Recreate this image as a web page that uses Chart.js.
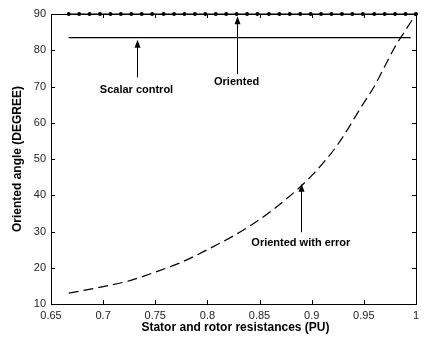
<!DOCTYPE html>
<html><head><meta charset="utf-8">
<script src="https://cdn.jsdelivr.net/npm/chart.js@4"></script>
<style>html,body{margin:0;padding:0;background:#fff}#w{width:424px;height:337px}</style>
</head><body><div id="w"><canvas id="c"></canvas></div>
<script>
const xTickLabels = [0.65, 0.7, 0.75, 0.8, 0.85, 0.9, 0.95, 1];
const yTickLabels = [10, 20, 30, 40, 50, 60, 70, 80, 90];
const orientedX = [0.667,0.677,0.687,0.697,0.707,0.717,0.727,0.737,0.747,0.758,0.768,0.778,0.788,0.798,0.808,0.818,0.828,0.838,0.848,0.859,0.869,0.879,0.889,0.899,0.909,0.919,0.929,0.939,0.949,0.960,0.970,0.980,0.990,1.0];
const orientedY = [90,90,90,90,90,90,90,90,90,90,90,90,90,90,90,90,90,90,90,90,90,90,90,90,90,90,90,90,90,90,90,90,90,90];
const scalarX = [0.667, 0.995];
const scalarY = [83.5, 83.5];
const errorX = [0.667,0.7,0.725,0.75,0.775,0.8,0.825,0.85,0.875,0.9,0.925,0.95,0.96,0.97,0.98,0.99,1.0];
const errorY = [13,14.8,16.4,18.8,21.5,25,28.8,33.3,38.8,45.4,54,65.5,70,75.5,81,85.5,90];
const notes = [
  {text:'Scalar control', tx:0.732, ty:69.0, ax:0.732, from:72.5, to:82.9},
  {text:'Oriented', tx:0.828, ty:71.2, ax:0.828, from:73.4, to:89.4},
  {text:'Oriented with error', tx:0.8896, ty:26.8, ax:0.8896, from:29.8, to:43.2}
];
const toPts = (xs, ys) => xs.map((x, i) => ({x, y: ys[i]}));

const FONT = '"Liberation Sans", Arial, sans-serif';
const frame = {
  id: 'frame',
  afterDraw(chart) {
    const {ctx, chartArea: a, scales: {x, y}} = chart;
    ctx.save();
    ctx.strokeStyle = '#000';
    ctx.lineWidth = 1;
    ctx.strokeRect(Math.round(a.left) + 0.5, Math.round(a.top) + 0.5, Math.round(a.right - a.left), Math.round(a.bottom - a.top));
    ctx.beginPath();
    xTickLabels.forEach(v => {
      const px = Math.round(x.getPixelForValue(v)) + 0.5;
      ctx.moveTo(px, a.bottom); ctx.lineTo(px, a.bottom - 4);
      ctx.moveTo(px, a.top); ctx.lineTo(px, a.top + 4);
    });
    yTickLabels.forEach(v => {
      const py = Math.round(y.getPixelForValue(v)) + 0.5;
      ctx.moveTo(a.left, py); ctx.lineTo(a.left + 4, py);
      ctx.moveTo(a.right, py); ctx.lineTo(a.right - 4, py);
    });
    ctx.stroke();
    // annotations
    ctx.fillStyle = '#000';
    ctx.font = 'bold 11px ' + FONT;
    ctx.textAlign = 'center';
    ctx.textBaseline = 'middle';
    notes.forEach(n => {
      ctx.fillText(n.text, x.getPixelForValue(n.tx), y.getPixelForValue(n.ty));
      const ax = Math.round(x.getPixelForValue(n.ax)) + 0.5;
      const y0 = y.getPixelForValue(n.from), y1 = y.getPixelForValue(n.to);
      ctx.beginPath();
      ctx.moveTo(ax, y0); ctx.lineTo(ax, y1 + 6);
      ctx.stroke();
      ctx.beginPath();
      ctx.moveTo(ax, y1); ctx.lineTo(ax - 3, y1 + 8); ctx.lineTo(ax + 3, y1 + 8); ctx.closePath();
      ctx.fill();
    });
    // axis titles
    ctx.font = 'bold 12px ' + FONT;
    ctx.fillText('Stator and rotor resistances (PU)', (a.left + a.right) / 2 + 2, 328);
    ctx.translate(18, (a.top + a.bottom) / 2);
    ctx.rotate(-Math.PI / 2);
    ctx.fillText('Oriented angle (DEGREE)', 0, 0);
    ctx.restore();
  }
};

new Chart(document.getElementById('c'), {
  type: 'line',
  data: {
    datasets: [
      {label: 'Oriented', data: toPts(orientedX, orientedY), borderColor: '#000', backgroundColor: '#000', borderWidth: 1.2, pointRadius: 2, pointBorderWidth: 0, clip: false},
      {label: 'Scalar control', data: toPts(scalarX, scalarY), borderColor: '#000', borderWidth: 1.2, pointRadius: 0},
      {label: 'Oriented with error', data: toPts(errorX, errorY), borderColor: '#000', borderWidth: 1.2, borderDash: [10, 5], pointRadius: 0, cubicInterpolationMode: 'monotone'}
    ]
  },
  options: {
    responsive: true, maintainAspectRatio: false, animation: false,
    layout: {padding: {left: 0, right: 5, top: 14, bottom: 0}},
    plugins: {legend: {display: false}, tooltip: {enabled: false}},
    scales: {
      x: {
        type: 'linear', min: 0.65, max: 1,
        afterBuildTicks: s => { s.ticks = xTickLabels.map(v => ({value: v})); },
        afterFit: s => { s.height = 33; },
        grid: {display: false, drawTicks: false, tickLength: 0}, border: {display: false},
        ticks: {font: {family: FONT, size: 11}, color: '#222', padding: 5, maxRotation: 0, autoSkip: false, callback: v => String(v)}
      },
      y: {
        type: 'linear', min: 10, max: 90,
        afterBuildTicks: s => { s.ticks = yTickLabels.map(v => ({value: v})); },
        afterFit: s => { s.width = 51; },
        grid: {display: false, drawTicks: false, tickLength: 0}, border: {display: false},
        ticks: {font: {family: FONT, size: 11}, color: '#222', padding: 5, autoSkip: false, callback: v => String(v)}
      }
    }
  },
  plugins: [frame]
});
</script></body></html>
